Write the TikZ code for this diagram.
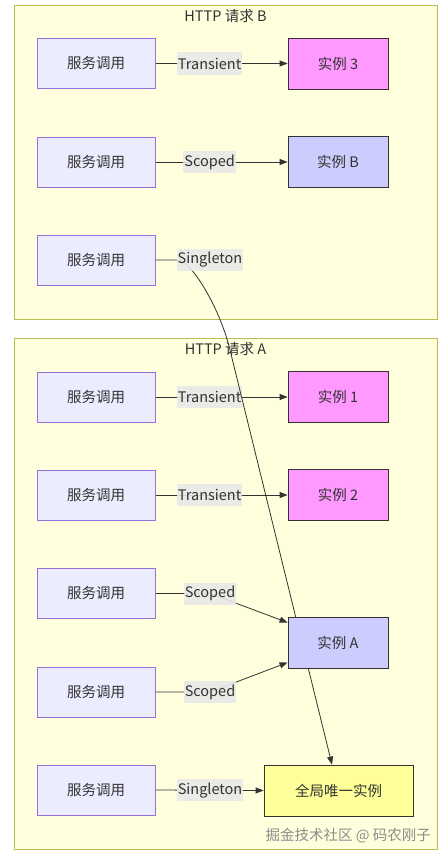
\documentclass[tikz,border=0pt]{standalone}
\usepackage{fontspec}
\setmainfont{Noto Sans CJK SC}
\usetikzlibrary{arrows.meta,calc}
\definecolor{clfill}{HTML}{FFFFDE}
\definecolor{cldraw}{HTML}{BBBB55}
\definecolor{svcfill}{HTML}{ECECFF}
\definecolor{svcdraw}{HTML}{9370DB}
\definecolor{pinkfill}{HTML}{FF99FF}
\definecolor{bluefill}{HTML}{CCCCFF}
\definecolor{yelfill}{HTML}{FFFF99}
\definecolor{ink}{HTML}{333333}
\definecolor{lblbg}{HTML}{E8E8E8}
\definecolor{wm}{HTML}{8C8C8C}
\pgfdeclarelayer{bg}
\pgfdeclarelayer{edges}
\pgfsetlayers{bg,edges,main}
\begin{document}
\begin{tikzpicture}[x=1pt,y=-1pt,
  font=\fontsize{14.5}{16}\selectfont, text=ink,
  svc/.style={draw=svcdraw, fill=svcfill, minimum width=118pt, minimum height=50pt, inner sep=0pt, line width=0.8pt},
  inst/.style={draw=ink, minimum width=100pt, minimum height=51pt, inner sep=0pt, line width=0.8pt},
  pinkinst/.style={inst, fill=pinkfill},
  blueinst/.style={inst, fill=bluefill},
  globinst/.style={inst, fill=yelfill, minimum width=149pt},
  lbl/.style={fill=lblbg, fill opacity=0.9, text opacity=1, inner xsep=1pt, inner ysep=0pt, minimum height=22pt},
  edge/.style={draw=ink, line width=0.8pt, -{Triangle[length=8pt,width=6pt]}},
  cluster/.style={draw=cldraw, fill=clfill, line width=0.8pt},
  title/.style={inner sep=0pt},
  watermark/.style={text=wm, anchor=east, inner sep=0pt}
]
\useasboundingbox (0,0) rectangle (446,859);

% clusters
\begin{pgfonlayer}{bg}
\fill[white] (0,0) rectangle (446,859);
\draw[cluster] (14,5) rectangle (437,319);
\draw[cluster] (14,338) rectangle (437,849);
\end{pgfonlayer}
\node[title] (tB) at (225.5,16) {HTTP 请求 B};
\node[title] (tA) at (225.5,349) {HTTP 请求 A};

% cluster B nodes
\node[svc] (b1) at (96,63.5) {服务调用};
\node[svc] (b2) at (96,162) {服务调用};
\node[svc] (b3) at (96,260) {服务调用};
\node[pinkinst] (i3) at (338,63.5) {实例 3};
\node[blueinst] (iB) at (338,162) {实例 B};

% cluster A nodes
\node[svc] (a1) at (96,397) {服务调用};
\node[svc] (a2) at (96,495) {服务调用};
\node[svc] (a3) at (96,593.5) {服务调用};
\node[svc] (a4) at (96,692) {服务调用};
\node[svc] (a5) at (96,790) {服务调用};
\node[pinkinst] (i1) at (338,397) {实例 1};
\node[pinkinst] (i2) at (338,495) {实例 2};
\node[blueinst] (iA) at (338,642.5) {实例 A};
\node[globinst] (g) at (338.5,790.5) {全局唯一实例};

\node[watermark] (wmk) at (431,836) {掘金技术社区 @ 码农刚子};

\begin{pgfonlayer}{edges}
\draw[edge] (b1.east) -- node[lbl,pos=0.41] (lb1) {Transient} (i3.west);
\draw[edge] (b2.east) -- node[lbl,pos=0.41] (lb2) {Scoped} (iB.west);
\draw[edge] (a1.east) -- node[lbl,pos=0.41] (la1) {Transient} (i1.west);
\draw[edge] (a2.east) -- node[lbl,pos=0.41] (la2) {Transient} (i2.west);
\draw[edge] (a3.east) -- (210,593.5) node[lbl] (la3) {Scoped} -- ($(iA.west)+(0,-20)$);
\draw[edge] (a4.east) -- (210,692) node[lbl] (la4) {Scoped} -- ($(iA.west)+(0,20)$);
\draw[edge] (a5.east) -- node[lbl,pos=0.505] (la5) {Singleton} (g.west);
\draw[edge] (b3.east) -- (178,260) .. controls (190,260) and (219,305) .. (230,350) -- ($(g.north)+(-6.5,0)$);
\node[lbl] (lb3) at (210,260) {Singleton};
\end{pgfonlayer}
\end{tikzpicture}
\end{document}
